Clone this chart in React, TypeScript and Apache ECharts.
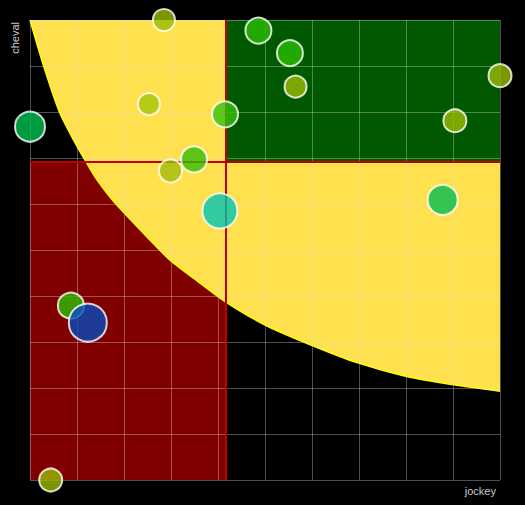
import React, { useEffect, useRef } from "react";
import * as echarts from "echarts";

// Boundary of the yellow zone
const curveX = [0, 0.29, 0.63, 0.96, 1.19, 1.43, 1.81, 2.55, 2.98, 3.62, 4.15, 5.0, 5.99, 6.99, 8.01, 9.01, 10];
const curveY = [10, 9.0, 7.99, 7.33, 6.92, 6.52, 6.02, 5.22, 4.78, 4.28, 3.88, 3.37, 2.93, 2.54, 2.25, 2.07, 1.93];

// Quadrant split values
const splitX = 4.164;
const splitY = 6.92;

// Bubbles
const bubbleX = [2.85, 4.86, 5.53, 5.65, 10, 0, 2.53, 4.15, 9.04, 3.49, 2.99, 4.04, 8.78, 0.87, 1.23, 0.44];
const bubbleY = [10, 9.77, 9.28, 8.55, 8.79, 7.68, 8.17, 7.95, 7.81, 6.97, 6.72, 5.85, 6.09, 3.79, 3.42, 0];
const bubbleSize = [22, 26, 26, 22, 23, 30, 22, 26, 23, 26, 23, 35, 30, 26, 38, 23];
const bubbleColor = [
  "#98bc00", "#2abe00", "#2abe00", "#98bc00", "#98bc00", "#00c050", "#a4c606", "#34c20b",
  "#98bc00", "#34bd06", "#a4bc0b", "#00c4b0", "#04bd51", "#2bc000", "#054bbb", "#98bc00",
];

const rectRenderer = (color: string) => (params: any, api: any) => {
  const p0 = api.coord([api.value(0), api.value(1)]);
  const p1 = api.coord([api.value(2), api.value(3)]);
  return {
    type: "rect",
    shape: { x: p0[0], y: p1[1], width: p1[0] - p0[0], height: p0[1] - p1[1] },
    style: { fill: color },
  };
};

export default function App() {
  const ref = useRef<HTMLDivElement>(null);
  useEffect(() => {
    document.body.style.margin = "0";
    document.body.style.background = "#000";
    const chart = echarts.init(ref.current!, null, { renderer: "svg" });
    const gridLine = { show: true, lineStyle: { color: "rgba(220,220,220,0.36)", width: 1 } };
    chart.setOption({
      animation: false,
      backgroundColor: "#000",
      grid: { left: 30, right: 25, top: 20, bottom: 25 },
      xAxis: {
        type: "value",
        min: 0,
        max: 10,
        interval: 1,
        z: 4,
        name: "jockey",
        nameLocation: "end",
        nameGap: 0,
        nameTextStyle: {
          color: "#c8c8c8",
          fontSize: 11,
          fontFamily: "Arial, sans-serif",
          align: "right",
          verticalAlign: "top",
          padding: [5, 4, 0, 0],
        },
        axisLine: { show: false },
        axisTick: { show: false },
        axisLabel: { show: false },
        splitLine: gridLine,
      },
      yAxis: {
        type: "value",
        min: 0,
        max: 10,
        interval: 1,
        z: 4,
        name: "cheval",
        nameLocation: "end",
        nameGap: -2,
        nameRotate: 90,
        nameTextStyle: {
          color: "#c8c8c8",
          fontSize: 11,
          fontFamily: "Arial, sans-serif",
          align: "right",
          verticalAlign: "bottom",
          padding: [0, 0, 10, 0],
        },
        axisLine: { show: false },
        axisTick: { show: false },
        axisLabel: { show: false },
        splitLine: gridLine,
      },
      series: [
        {
          type: "custom",
          z: 1,
          silent: true,
          renderItem: rectRenderer("#800000"),
          data: [[0, 0, splitX, splitY]],
        },
        {
          type: "line",
          z: 2,
          silent: true,
          smooth: 0.25,
          showSymbol: false,
          data: curveX.map((x, i) => [x, curveY[i]]),
          lineStyle: { color: "#ffff00", width: 1.5 },
          areaStyle: { color: "#ffe14f", opacity: 1, origin: "end" },
        },
        {
          type: "custom",
          z: 3,
          silent: true,
          renderItem: rectRenderer("#005800"),
          data: [[splitX, splitY, 10, 10]],
          markLine: {
            silent: true,
            symbol: "none",
            label: { show: false },
            lineStyle: { color: "#c00000", width: 2, type: "solid" },
            data: [{ xAxis: splitX }, { yAxis: splitY }],
          },
        },
        {
          type: "scatter",
          z: 5,
          data: bubbleX.map((x, i) => ({
            value: [x, bubbleY[i]],
            symbolSize: bubbleSize[i],
            itemStyle: { color: bubbleColor[i] },
          })),
          itemStyle: { opacity: 0.8, borderColor: "#ffffff", borderWidth: 2 },
        },
      ],
    });
    return () => chart.dispose();
  }, []);
  return <div ref={ref} style={{ width: 525, height: 505 }} />;
}
